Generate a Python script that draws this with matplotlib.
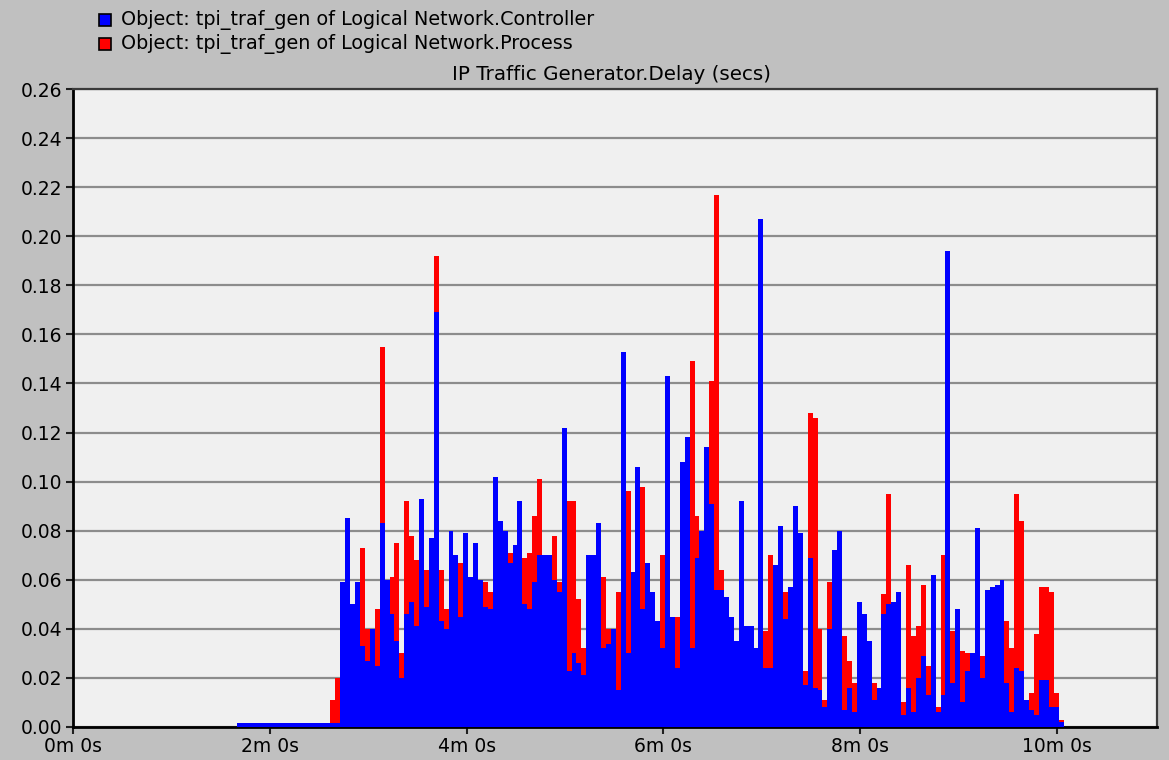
import numpy as np
import matplotlib
matplotlib.use("Agg")
import matplotlib.pyplot as plt
from matplotlib.patches import Rectangle

plt.rcParams['font.family'] = ['DejaVu Sans']

# statistic buckets: 3 s wide, first bucket starts at 100 s
bucket_start = 100
bucket_width = 3

series_names = [
    "Object: tpi_traf_gen of Logical Network.Controller",
    "Object: tpi_traf_gen of Logical Network.Process",
]
title = "IP Traffic Generator.Delay (secs)"

# Controller delay (secs) per bucket
delay_controller = [
    # 100 s .. 157 s
    0.0015, 0.0015, 0.0015, 0.0015, 0.0015, 0.0015, 0.0015, 0.0015, 0.0015, 0.0015,
    0.0015, 0.0015, 0.0015, 0.0015, 0.0015, 0.0015, 0.0015, 0.0015, 0.0015, 0.0015,
    # 160 s onwards
    0.0015, 0.059, 0.085, 0.050, 0.059, 0.033, 0.027, 0.040, 0.025, 0.083,
    0.060, 0.046, 0.035, 0.020, 0.046, 0.051, 0.041, 0.093, 0.049, 0.077,
    0.169, 0.043, 0.040, 0.080, 0.070, 0.045, 0.079, 0.061, 0.075, 0.060,
    0.049, 0.048, 0.102, 0.084, 0.080, 0.067, 0.074, 0.092, 0.050, 0.048,
    0.059, 0.070, 0.070, 0.070, 0.060, 0.055, 0.122, 0.023, 0.030, 0.026,
    0.021, 0.070, 0.070, 0.083, 0.032, 0.034, 0.040, 0.015, 0.153, 0.030,
    0.063, 0.106, 0.048, 0.067, 0.055, 0.043, 0.032, 0.143, 0.045, 0.024,
    0.108, 0.118, 0.032, 0.069, 0.080, 0.114, 0.091, 0.056, 0.056, 0.053,
    0.045, 0.035, 0.092, 0.041, 0.041, 0.032, 0.207, 0.024, 0.024, 0.066,
    0.082, 0.044, 0.057, 0.090, 0.079, 0.017, 0.069, 0.016, 0.015, 0.008,
    0.040, 0.072, 0.080, 0.007, 0.016, 0.006, 0.051, 0.046, 0.035, 0.011,
    0.016, 0.046, 0.050, 0.051, 0.055, 0.005, 0.016, 0.006, 0.020, 0.029,
    0.013, 0.062, 0.006, 0.013, 0.194, 0.018, 0.048, 0.010, 0.023, 0.030,
    0.081, 0.020, 0.056, 0.057, 0.058, 0.060, 0.018, 0.006, 0.024, 0.023,
    0.011, 0.007, 0.005, 0.019, 0.019, 0.008, 0.008, 0.002,
]

# Process delay (secs) per bucket
delay_process = [
    # 100 s .. 157 s
    0.0, 0.0, 0.0, 0.0, 0.0, 0.0, 0.0, 0.0, 0.0, 0.0,
    0.0, 0.0, 0.0, 0.0, 0.0, 0.0, 0.0, 0.0, 0.0, 0.011,
    # 160 s onwards
    0.020, 0.034, 0.060, 0.045, 0.050, 0.073, 0.040, 0.035, 0.048, 0.155,
    0.050, 0.061, 0.075, 0.030, 0.092, 0.078, 0.068, 0.050, 0.064, 0.050,
    0.192, 0.064, 0.048, 0.050, 0.050, 0.067, 0.050, 0.055, 0.060, 0.059,
    0.059, 0.055, 0.060, 0.060, 0.050, 0.071, 0.060, 0.060, 0.069, 0.071,
    0.086, 0.101, 0.070, 0.067, 0.078, 0.059, 0.050, 0.092, 0.092, 0.052,
    0.032, 0.030, 0.040, 0.050, 0.061, 0.040, 0.040, 0.055, 0.060, 0.096,
    0.060, 0.050, 0.098, 0.050, 0.045, 0.040, 0.070, 0.060, 0.030, 0.045,
    0.050, 0.060, 0.149, 0.086, 0.070, 0.090, 0.141, 0.217, 0.064, 0.040,
    0.035, 0.035, 0.022, 0.030, 0.028, 0.028, 0.050, 0.039, 0.070, 0.030,
    0.040, 0.055, 0.040, 0.050, 0.040, 0.023, 0.128, 0.126, 0.040, 0.011,
    0.059, 0.040, 0.040, 0.037, 0.027, 0.018, 0.030, 0.030, 0.030, 0.018,
    0.010, 0.054, 0.095, 0.040, 0.040, 0.010, 0.066, 0.037, 0.041, 0.058,
    0.025, 0.040, 0.008, 0.070, 0.050, 0.039, 0.030, 0.031, 0.030, 0.030,
    0.040, 0.029, 0.040, 0.040, 0.040, 0.040, 0.043, 0.032, 0.095, 0.084,
    0.011, 0.014, 0.038, 0.057, 0.057, 0.055, 0.014, 0.003,
]

x_ticks_min = [0, 2, 4, 6, 8, 10]
y_ticks = [0.00, 0.02, 0.04, 0.06, 0.08, 0.10, 0.12, 0.14, 0.16,
           0.18, 0.20, 0.22, 0.24, 0.26]

BG = '#c0c0c0'
PLOT_BG = '#f0f0f0'
BLUE = '#0000ff'
RED = '#ff0000'

fig = plt.figure(figsize=(11.69, 7.60), dpi=100, facecolor=BG)
ax = fig.add_axes([73 / 1169, 33 / 760, 1084 / 1169, 638 / 760])
ax.set_facecolor(PLOT_BG)

n = len(delay_controller)
edges = bucket_start + bucket_width * np.arange(n + 1)
ctrl = np.append(delay_controller, delay_controller[-1])
proc = np.append(delay_process, delay_process[-1])
# keep the bars off the baseline where there is no sample yet
proc_mask = np.append(np.array(delay_process) > 0, True)

ax.fill_between(edges, 0, proc, where=proc_mask, step='post',
                color=RED, linewidth=0, zorder=2)
ax.fill_between(edges, 0, ctrl, step='post', color=BLUE, linewidth=0, zorder=3)

ax.set_xlim(0, 661)
ax.set_ylim(0, 0.26)

ax.set_xticks([m * 60 for m in x_ticks_min])
ax.set_xticklabels([f"{m}m 0s" for m in x_ticks_min])
ax.set_yticks(y_ticks)
ax.set_yticklabels([f"{v:.2f}" for v in y_ticks])

ax.yaxis.grid(True, color='#8c8c8c', linewidth=1.6, zorder=1)
ax.xaxis.grid(False)
ax.set_axisbelow(True)

for side in ['left', 'bottom']:
    ax.spines[side].set_color('black')
    ax.spines[side].set_linewidth(2)
for side in ['top', 'right']:
    ax.spines[side].set_color('#3a3a3a')
    ax.spines[side].set_linewidth(1.6)

ax.tick_params(axis='both', direction='out', length=5, width=1.5,
               color='#202020', labelsize=13.5, labelcolor='black')
ax.tick_params(axis='y', pad=3)
ax.tick_params(axis='x', pad=2)

fig.text(612 / 1169, 1 - 75 / 760, title, ha='center', va='center',
         fontsize=14.3, color='black')

# legend swatches and labels in the grey header
for i, (name, col) in enumerate(zip(series_names, [BLUE, RED])):
    yc = 1 - (20 + 24 * i) / 760
    fig.patches.append(Rectangle((99 / 1169, yc - 6 / 760), 12 / 1169, 12 / 760,
                                 transform=fig.transFigure, facecolor=col,
                                 edgecolor='black', linewidth=1.2))
    fig.text(121 / 1169, yc, name, ha='left', va='center',
             fontsize=13.8, color='black')

fig.savefig('out.png', dpi=100, facecolor=BG)
